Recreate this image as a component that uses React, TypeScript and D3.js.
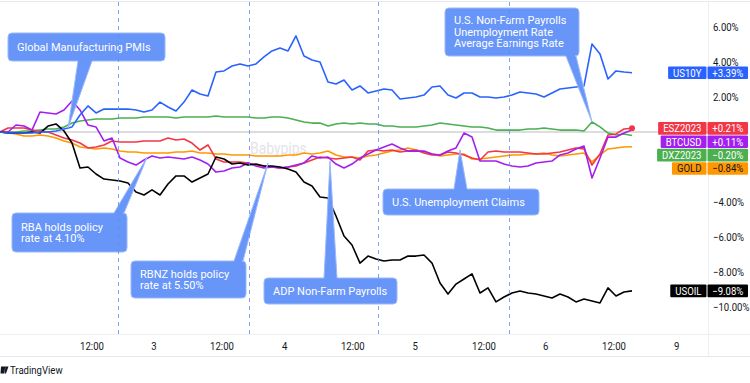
import React from 'react';
import * as d3 from 'd3';

const W = 750;
const H = 383;

// Bar index domain (one bar every ~1.5h)
const TOTAL_BARS = 88.5;

const US10Y = [0, -0.06, -0.06, -0.06, -0.06, 0, 0, 0.06, 0.17, 0.29,
  0.97, 1.49, 1.09, 1.31, 1.31, 1.31, 1.31, 1.26, 1.14, 1.26,
  1.71, 1.43, 1.2, 1.71, 2.4, 2.17, 2.06, 3.43, 3.49, 3.77,
  3.89, 3.77, 3.89, 4.29, 4.63, 4.8, 4.63, 5.49, 4.34, 4.11,
  4.0, 2.86, 2.74, 2.97, 2.4, 2.63, 2.23, 2.34, 2.46, 2.4,
  1.89, 1.94, 2.0, 2.11, 2.57, 2.63, 2.11, 1.94, 2.23, 2.23,
  2.0, 2.0, 1.94, 2.0, 2.11, 2.29, 2.23, 2.17, 2.0, 2.23,
  2.46, 2.51, 2.57, 2.63, 5.03, 4.46, 3.03, 3.49, 3.43, 3.39];

const ESZ2023 = [0, 0.23, 0.23, 0.23, 0.11, 0.06, 0, -0.17, -0.34, -0.46,
  -0.63, -0.91, -0.86, -0.74, -0.51, -0.57, -0.57, -0.57, -0.51, -0.51,
  -0.51, -0.34, -0.46, -0.4, -0.63, -1.03, -0.74, -1.54, -1.71, -1.71,
  -1.71, -1.77, -1.89, -1.94, -2.0, -2.06, -2.0, -1.94, -1.77, -1.6,
  -1.43, -1.49, -1.54, -1.49, -1.43, -1.6, -1.09, -1.03, -1.09, -1.03,
  -1.14, -1.09, -1.03, -1.2, -1.31, -1.31, -1.14, -1.2, -1.31, -1.49,
  -1.6, -1.14, -1.09, -1.14, -1.14, -1.14, -1.2, -1.26, -1.26, -1.2,
  -1.14, -1.03, -0.91, -0.97, -1.89, -1.26, -0.17, -0.11, 0.17, 0.21];

const BTCUSD = [0, 0, 0.4, 0.34, 0.11, 1.14, 1.09, 1.03, 1.26, 1.77,
  1.26, 0.4, 0.29, -0.51, -0.34, -1.49, -1.71, -1.89, -1.6, -1.37,
  -1.49, -1.43, -1.49, -1.54, -1.43, -1.6, -1.83, -2.29, -2.23, -2.06,
  -2.0, -1.77, -1.94, -2.06, -2.0, -2.06, -2.0, -1.89, -1.77, -1.37,
  -1.49, -1.43, -1.83, -2.06, -1.83, -1.49, -1.26, -1.03, -0.86, -0.69,
  -0.91, -1.09, -1.09, -1.09, -1.26, -1.31, -1.09, -0.91, -0.06, -0.29,
  -1.66, -1.66, -1.66, -1.83, -1.94, -2.0, -1.94, -1.77, -1.71, -1.66,
  -1.31, -1.2, -0.97, -0.8, -2.63, -1.49, -0.29, -0.29, -0.06, 0.11];

const DXZ2023 = [0, 0, 0, 0.06, 0.06, 0.11, 0.17, 0.17, 0.29, 0.51,
  0.63, 0.69, 0.74, 0.74, 0.74, 0.8, 0.8, 0.8, 0.86, 0.86,
  0.86, 0.86, 0.8, 0.86, 0.86, 0.86, 0.86, 0.91, 0.86, 0.86,
  0.86, 0.86, 0.8, 0.8, 0.86, 0.86, 0.8, 0.69, 0.57, 0.51,
  0.51, 0.34, 0.46, 0.51, 0.46, 0.51, 0.46, 0.46, 0.34, 0.34,
  0.29, 0.29, 0.29, 0.34, 0.4, 0.51, 0.46, 0.4, 0.34, 0.29,
  0.29, 0.23, 0.11, 0.11, 0.11, 0.11, 0.17, 0.17, 0.23, 0.17,
  0.11, 0.11, 0.11, 0.06, 0.57, 0.29, -0.06, -0.17, -0.11, -0.2];

const GOLD = [0, -0.06, -0.11, -0.23, -0.23, -0.17, -0.23, -0.34, -0.51, -0.63,
  -0.86, -0.91, -0.97, -0.91, -0.97, -1.09, -1.14, -1.14, -1.2, -1.2,
  -1.2, -1.2, -1.14, -1.14, -1.09, -1.2, -1.2, -1.26, -1.26, -1.31,
  -1.31, -1.31, -1.37, -1.37, -1.37, -1.37, -1.31, -1.31, -1.2, -1.26,
  -1.2, -1.09, -1.31, -1.43, -1.43, -1.49, -1.37, -1.31, -1.2, -1.09,
  -1.03, -0.91, -1.03, -1.14, -1.26, -1.37, -1.31, -1.26, -1.26, -1.54,
  -1.54, -1.49, -1.43, -1.37, -1.31, -1.31, -1.26, -1.26, -1.2, -1.31,
  -1.37, -1.31, -1.26, -1.2, -1.71, -1.31, -0.97, -0.91, -0.86, -0.84];

const USOIL = [0, -0.06, -0.06, -0.06, 0, -0.06, 0.34, 0.46, 0.06, -0.63,
  -2.06, -2.0, -2.4, -2.69, -2.74, -2.8, -2.91, -3.43, -3.6, -3.31,
  -3.6, -2.97, -2.51, -2.51, -2.86, -2.63, -2.4, -1.43, -1.54, -1.83,
  -1.77, -1.89, -1.83, -1.94, -1.94, -2.0, -2.11, -2.29, -2.86, -3.09,
  -3.71, -3.77, -4.8, -5.94, -6.46, -7.49, -7.09, -7.26, -7.37, -7.31,
  -7.31, -7.09, -7.09, -7.03, -7.49, -8.63, -9.26, -8.69, -8.4, -8.11,
  -9.2, -8.91, -9.71, -9.43, -9.2, -9.09, -9.2, -9.26, -9.37, -9.49,
  -9.26, -9.43, -9.71, -9.54, -9.66, -9.77, -8.91, -9.37, -9.14, -9.08];

const seriesNames = ['US10Y', 'ESZ2023', 'BTCUSD', 'DXZ2023', 'GOLD', 'USOIL'];
const seriesData = [US10Y, ESZ2023, BTCUSD, DXZ2023, GOLD, USOIL];
const seriesColors = ['#2962ff', '#f23645', '#a31ff0', '#4caf50', '#ff9800', '#000000'];
const tagTextColors = ['#ffffff', '#ffffff', '#ffffff', '#ffffff', '#131722', '#ffffff'];

const timeTickBars = [11.5, 19.25, 27.75, 35.6, 44.1, 51.9, 60.5, 68.2, 76.75, 84.6];
const timeTickLabels = ['12:00', '3', '12:00', '4', '12:00', '5', '12:00', '6', '12:00', '9'];
const sessionBreakBars = [14.75, 31.1, 47.25, 63.6];
const yTickValues = [6, 4, 2, -4, -6, -8, -10];

const calloutTexts = [
  ['Global Manufacturing PMIs'],
  ['U.S. Non-Farm Payrolls', 'Unemployment Rate', 'Average Earnings Rate'],
  ['RBA holds policy', 'rate at 4.10%'],
  ['RBNZ holds policy', 'rate at 5.50%'],
  ['ADP Non-Farm Payrolls'],
  ['U.S. Unemployment Claims'],
];
// tip anchors in data units (bar index, percent)
const calloutTipBars = [8.5, 74, 18.4, 33.5, 41.25, 57.5];
const calloutTipValues = [0.23, 0.57, -1.43, -1.77, -1.66, -1.03];

// layout of callout boxes (pixels)
const calloutBoxes = [
  { x0: 8, y0: 33, x1: 165, y1: 61, side: 'bottom', b0: 78, b1: 92 },
  { x0: 445, y0: 8, x1: 579, y1: 56, side: 'bottom', b0: 566, b1: 576 },
  { x0: 12, y0: 213, x1: 127, y1: 252, side: 'top', b0: 114, b1: 124 },
  { x0: 131, y0: 261, x1: 246, y1: 298, side: 'top', b0: 234, b1: 243 },
  { x0: 264, y0: 278, x1: 397, y1: 304, side: 'top', b0: 324, b1: 337 },
  { x0: 383, y0: 189, x1: 539, y1: 215, side: 'top', b0: 454, b1: 467 },
];

const FONT = 'Roboto, "Noto Sans", sans-serif';
const SX = 0.87; // horizontal compression of the reference's text

let measureCtx: CanvasRenderingContext2D | null = null;
function measure(text: string, size: number): number {
  if (!measureCtx) {
    const c = document.createElement('canvas');
    measureCtx = c.getContext('2d');
  }
  if (!measureCtx) return text.length * size * 0.55;
  measureCtx.font = `${size}px Roboto`;
  return measureCtx.measureText(text).width;
}

function calloutPath(b: any, tx: number, ty: number, r = 4): string {
  const { x0, y0, x1, y1, side, b0, b1 } = b;
  let p = `M${x0 + r},${y0}`;
  if (side === 'top') p += `L${b0},${y0}L${tx},${ty}L${b1},${y0}`;
  p += `L${x1 - r},${y0}A${r},${r} 0 0 1 ${x1},${y0 + r}`;
  p += `L${x1},${y1 - r}A${r},${r} 0 0 1 ${x1 - r},${y1}`;
  if (side === 'bottom') p += `L${b1},${y1}L${tx},${ty}L${b0},${y1}`;
  p += `L${x0 + r},${y1}A${r},${r} 0 0 1 ${x0},${y1 - r}`;
  p += `L${x0},${y0 + r}A${r},${r} 0 0 1 ${x0 + r},${y0}Z`;
  return p;
}

function fmt(v: number): string {
  const s = Math.abs(v).toFixed(2) + '%';
  return (v >= 0 ? '+' : '\u2212') + s;
}

export default function App() {
  const plotRight = 708;
  const x = d3.scaleLinear().domain([0, TOTAL_BARS]).range([0, plotRight]);
  const y = d3.scaleLinear().domain([0, 6]).range([132, 27]);
  const line = d3.line<number>().x((_, i) => x(i)).y((d) => y(d));

  // tags with collision avoidance
  const tagOrder = seriesNames.map((n, i) => ({ i, yy: y(seriesData[i][seriesData[i].length - 1]) }))
    .sort((a, b) => a.yy - b.yy);
  const tagY: number[] = [];
  let prev = -Infinity;
  tagOrder.forEach((t) => {
    const yy = Math.max(t.yy, prev + 13.4);
    tagY[t.i] = yy;
    prev = yy;
  });

  const drawOrder = [3, 4, 1, 2, 5, 0];

  return (
    <svg width={W} height={H} style={{ position: 'absolute', left: 0, top: 0, background: '#fff' }}
      fontFamily={FONT}>
      <rect x={0} y={0} width={W} height={H} fill="#ffffff" />
      {/* frame lines */}
      <line x1={0} x2={W} y1={1.5} y2={1.5} stroke="#e6e8ee" />
      <line x1={plotRight + 0.5} x2={plotRight + 0.5} y1={1.5} y2={356} stroke="#eceef2" />
      <line x1={0} x2={W} y1={334.5} y2={334.5} stroke="#eceef2" />
      <line x1={0} x2={W} y1={356.5} y2={356.5} stroke="#e6e8ee" />

      {/* zero line */}
      <line x1={0} x2={plotRight} y1={y(0)} y2={y(0)} stroke="#b8bbc2" strokeWidth={1} />

      {/* watermark */}
      <text x={250} y={154} fontSize={16} fill="#e3e4e8" transform={`translate(250,0) scale(${SX},1) translate(-250,0)`}>Babypips</text>

      {/* series lines */}
      {drawOrder.map((i) => (
        <path key={seriesNames[i]} d={line(seriesData[i]) || ''} fill="none" stroke={seriesColors[i]}
          strokeWidth={1.6} strokeLinejoin="round" />
      ))}
      <circle cx={x(ESZ2023.length - 1)} cy={y(ESZ2023[ESZ2023.length - 1])} r={3} fill="#f23645" />

      {/* callouts */}
      {calloutBoxes.map((b, k) => {
        const tx = x(calloutTipBars[k]);
        const ty = y(calloutTipValues[k]);
        const lines = calloutTexts[k];
        const cy = (b.y0 + b.y1) / 2;
        const lh = 11.5;
        const startY = cy - ((lines.length - 1) * lh) / 2;
        const tx0 = b.x0 + 9;
        return (
          <g key={k}>
            <path d={calloutPath(b, tx, ty)} fill="#6795f8" stroke="#9ab9fb" strokeWidth={1} />
            {lines.map((t, j) => (
              <text key={j} x={tx0} y={startY + j * lh} dy="0.36em" fontSize={11} fill="#ffffff">{t}</text>
            ))}
          </g>
        );
      })}

      {/* session breaks */}
      {sessionBreakBars.map((b, k) => (
        <line key={k} x1={Math.round(x(b)) + 0.5} x2={Math.round(x(b)) + 0.5} y1={2} y2={334}
          stroke="#5b8cf5" strokeOpacity={0.8} strokeDasharray="4,4" strokeWidth={1} />
      ))}

      {/* price axis ticks */}
      {yTickValues.map((v) => {
        const lx = 713;
        const label = (v < 0 ? '\u2212' : '') + Math.abs(v).toFixed(2) + '%';
        return (
          <text key={v} x={lx} y={y(v)} dy="0.36em" fontSize={11} fill="#131722"
            transform={`translate(${lx},0) scale(${SX},1) translate(${-lx},0)`}>{label}</text>
        );
      })}

      {/* time axis */}
      {timeTickBars.map((b, k) => {
        const cx = x(b);
        return (
          <text key={k} x={cx} y={346} dy="0.36em" fontSize={11} fill="#131722" textAnchor="middle"
            transform={`translate(${cx},0) scale(${SX},1) translate(${-cx},0)`}>{timeTickLabels[k]}</text>
        );
      })}

      {/* last value tags */}
      {seriesNames.map((n, i) => {
        const yy = tagY[i];
        const h = 12.6;
        const tw = measure(n, 11) * SX;
        const right = plotRight - 1.5;
        const left = right - tw - 10;
        const valText = fmt(seriesData[i][seriesData[i].length - 1]);
        const vx0 = plotRight - 0.5;
        const vx1 = 748;
        const vcx = (vx0 + vx1) / 2;
        const lcx = (left + right) / 2;
        return (
          <g key={n}>
            <rect x={left} y={yy - h / 2} width={right - left} height={h} fill={seriesColors[i]} rx={1} />
            <rect x={vx0} y={yy - h / 2} width={vx1 - vx0} height={h} fill={seriesColors[i]} rx={1} />
            <text x={lcx} y={yy} dy="0.36em" fontSize={11} fill={tagTextColors[i]} textAnchor="middle"
              transform={`translate(${lcx},0) scale(${SX},1) translate(${-lcx},0)`}>{n}</text>
            <text x={vcx} y={yy} dy="0.36em" fontSize={11} fill={tagTextColors[i]} textAnchor="middle"
              transform={`translate(${vcx},0) scale(${SX},1) translate(${-vcx},0)`}>{valText}</text>
          </g>
        );
      })}

      {/* TradingView branding */}
      <path d="M1,366.5 L5.5,366.5 L4,373.5 L0.5,373.5 Z M5.5,366.5 L8.5,366.5 L6,373.5 L4.5,373.5 Z" fill="#131722" />
      <text x={10} y={370} dy="0.36em" fontSize={11} fill="#131722"
        transform={`translate(10,0) scale(${SX},1) translate(-10,0)`}>TradingView</text>
    </svg>
  );
}
